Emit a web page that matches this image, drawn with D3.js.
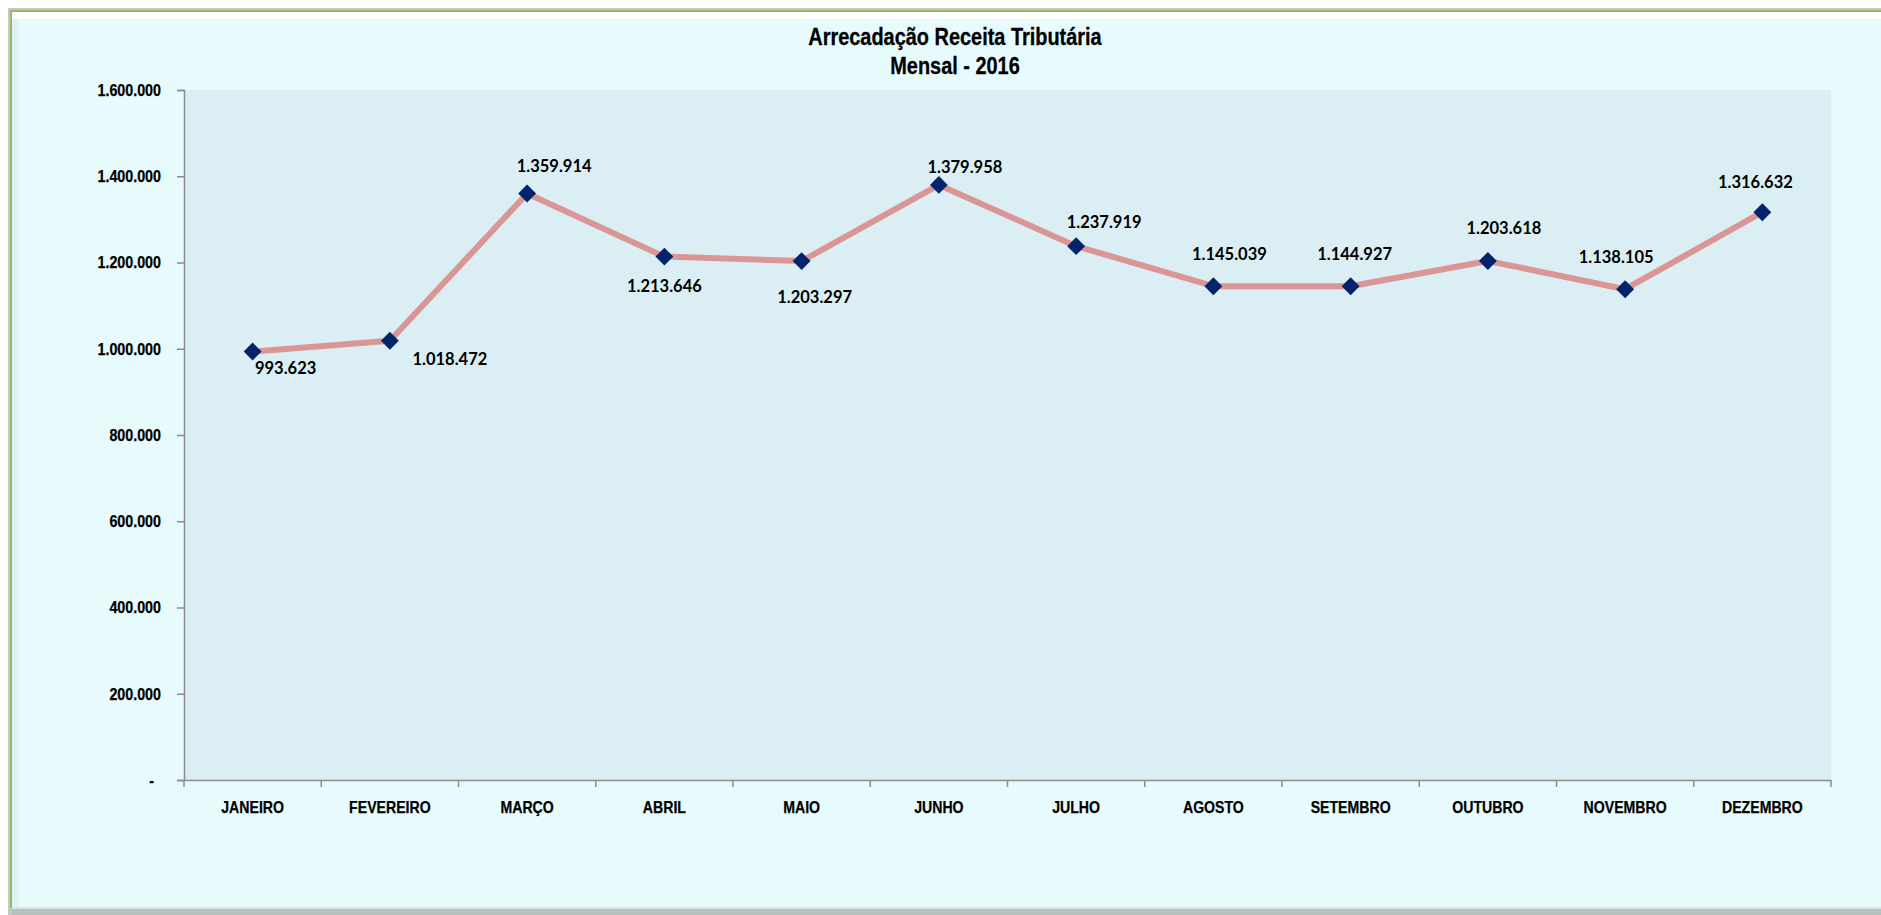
<!DOCTYPE html>
<html>
<head>
<meta charset="utf-8">
<script src="https://cdn.jsdelivr.net/npm/d3@7"></script>
<style>
  body { margin: 0; background: #ffffff; }
  svg { display: block; }
</style>
</head>
<body>
<script>
var w = 1881;
var h = 915;

var months = ["JANEIRO", "FEVEREIRO", "MARÇO", "ABRIL", "MAIO", "JUNHO",
  "JULHO", "AGOSTO", "SETEMBRO", "OUTUBRO", "NOVEMBRO", "DEZEMBRO"];
var receita = [993623, 1018472, 1359914, 1213646, 1203297, 1379958,
  1237919, 1145039, 1144927, 1203618, 1138105, 1316632];
var yTicks = [0, 200000, 400000, 600000, 800000, 1000000, 1200000, 1400000, 1600000];
var titleLines = ["Arrecadação Receita Tributária", "Mensal - 2016"];

// label placement (pixels from the marker), as moved by hand in the original
var labelDx = [33, 60, 27, 0, 13, 26, 28, 16, 4, 16, -9, -7];
var labelDy = [22, 24, -22, 35, 42, -12, -18, -26, -26, -27, -26, -24];

var narrow = "'Liberation Sans', Arial, sans-serif";

// no narrow face installed: squeeze the glyphs to look like Arial Narrow
function squeeze(sel, k) {
  sel.each(function () {
    var len = this.getComputedTextLength();
    d3.select(this).attr("textLength", len * k).attr("lengthAdjust", "spacingAndGlyphs");
  });
}

var svg = d3.select("body").append("svg").attr("width", w).attr("height", h);

// chart frame
svg.append("rect").attr("x", 8).attr("y", 8).attr("width", w).attr("height", h - 8).attr("fill", "#c3c8c8");
svg.append("rect").attr("x", 10).attr("y", 10).attr("width", w).attr("height", h - 17).attr("fill", "#9bbb59");
svg.append("rect").attr("x", 12).attr("y", 12).attr("width", w).attr("height", h - 19).attr("fill", "#ffffff");
svg.append("rect").attr("x", 12).attr("y", 19).attr("width", w).attr("height", h - 27).attr("fill", "#e7fbfd");
svg.append("rect").attr("x", 12).attr("y", 19).attr("width", 6).attr("height", h - 27).attr("fill", "#d8eef0").attr("opacity", 0.6);
svg.append("rect").attr("x", 12).attr("y", h - 8).attr("width", w).attr("height", 8).attr("fill", "#b7bfbf");
svg.append("rect").attr("x", 12).attr("y", h - 8).attr("width", w).attr("height", 2).attr("fill", "#d9e4e4");

var pLeft = 184, pRight = 1831, pTop = 90, pBottom = 780;

var x = d3.scaleBand().domain(months).range([pLeft, pRight]).padding(0);
var y = d3.scaleLinear().domain([0, 1600000]).range([pBottom, pTop]);

var fmt = d3.formatLocale({ decimal: ",", thousands: ".", grouping: [3], currency: ["R$", ""] }).format(",");

svg.append("rect")
  .attr("x", pLeft).attr("y", pTop)
  .attr("width", pRight - pLeft).attr("height", pBottom - pTop)
  .attr("fill", "#daeef3");

// title
svg.append("g").selectAll("text")
  .data(titleLines)
  .enter()
  .append("text")
  .text(function (d) { return d; })
  .attr("x", 955)
  .attr("y", function (d, i) { return 45 + i * 29; })
  .attr("text-anchor", "middle")
  .attr("font-family", narrow)
  .attr("font-weight", "bold")
  .attr("font-size", 24)
  .attr("fill", "#000000")
  .attr("stroke", "#000000")
  .attr("stroke-width", 0.3)
  .call(squeeze, 0.83);

// y axis
var yAxis = svg.append("g")
  .attr("transform", "translate(" + pLeft + ",0)")
  .call(d3.axisLeft(y).tickValues(yTicks).tickSize(7).tickPadding(16)
    .tickFormat(function (d) { return d === 0 ? "-" : fmt(d); }));
yAxis.select(".domain").attr("stroke", "#8c8c8c").attr("stroke-width", 1.5);
yAxis.selectAll(".tick line").attr("stroke", "#8c8c8c").attr("stroke-width", 1.5);
yAxis.selectAll(".tick text")
  .attr("font-family", narrow)
  .attr("font-weight", "bold")
  .attr("font-size", 17)
  .attr("fill", "#000000")
  .attr("stroke", "#000000")
  .attr("stroke-width", 0.25)
  .attr("dx", function (d) { return d === 0 ? -7 : 0; })
  .call(squeeze, 0.84);

// x axis
var xAxis = svg.append("g")
  .attr("transform", "translate(0," + pBottom + ")")
  .call(d3.axisBottom(x).tickSize(0).tickPadding(21));
xAxis.select(".domain").attr("stroke", "#8c8c8c").attr("stroke-width", 1.5);
xAxis.selectAll(".tick text")
  .attr("font-family", narrow)
  .attr("font-weight", "bold")
  .attr("font-size", 17)
  .attr("fill", "#000000")
  .attr("stroke", "#000000")
  .attr("stroke-width", 0.25)
  .call(squeeze, 0.83);

var bounds = months.map(function (m) { return x(m); }).concat([pRight]);
xAxis.selectAll(".bound")
  .data(bounds)
  .enter()
  .append("line")
  .attr("class", "bound")
  .attr("x1", function (d) { return d; })
  .attr("x2", function (d) { return d; })
  .attr("y1", 0)
  .attr("y2", 7)
  .attr("stroke", "#8c8c8c")
  .attr("stroke-width", 1.5);

function cx(i) { return x(months[i]) + x.bandwidth() / 2; }

// line
var line = d3.line()
  .x(function (d, i) { return cx(i); })
  .y(function (d) { return y(d); });

svg.append("path")
  .datum(receita)
  .attr("d", line)
  .attr("fill", "none")
  .attr("stroke", "#d99694")
  .attr("stroke-width", 6)
  .attr("stroke-linejoin", "round");

// markers
svg.selectAll(".marker")
  .data(receita)
  .enter()
  .append("path")
  .attr("class", "marker")
  .attr("d", d3.symbol().type(d3.symbolSquare).size(160))
  .attr("transform", function (d, i) {
    return "translate(" + cx(i) + "," + y(d) + ") rotate(45)";
  })
  .attr("fill", "#03236a");

// data labels
svg.selectAll(".label")
  .data(receita)
  .enter()
  .append("text")
  .attr("class", "label")
  .text(function (d) { return fmt(d); })
  .attr("x", function (d, i) { return cx(i) + labelDx[i]; })
  .attr("y", function (d, i) { return y(d) + labelDy[i]; })
  .attr("text-anchor", "middle")
  .attr("font-family", "Lato, 'Open Sans', sans-serif")
  .attr("font-weight", "bold")
  .attr("font-size", 16.5)
  .attr("fill", "#000000");
</script>
</body>
</html>
